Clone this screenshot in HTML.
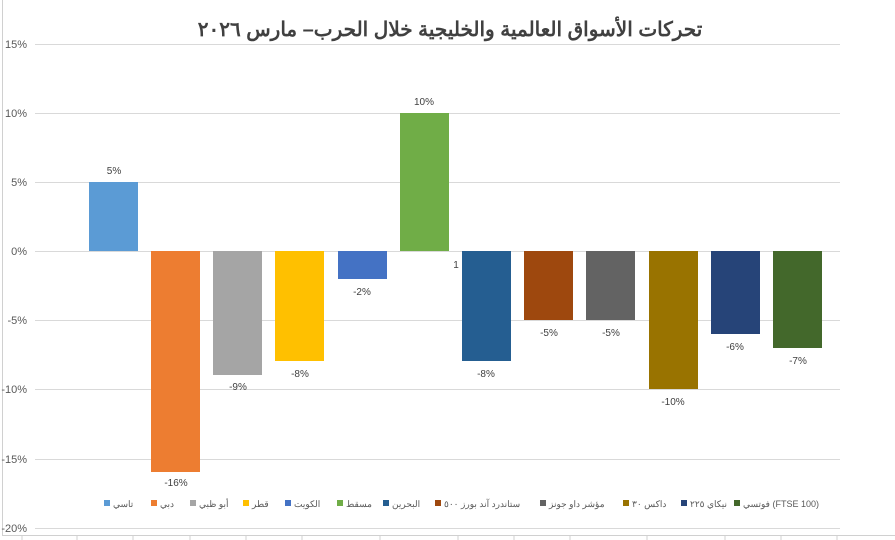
<!DOCTYPE html>
<html><head><meta charset="utf-8"><style>
body{margin:0;background:#fff;}
svg{display:block;font-family:"Liberation Sans","Noto Sans CJK SC",sans-serif;}
</style></head><body>
<svg width="895" height="540" viewBox="0 0 895 540" xmlns="http://www.w3.org/2000/svg">
<rect x="0" y="0" width="895" height="540" fill="#fff"/>
<line x1="2.5" y1="0" x2="2.5" y2="535" stroke="#d0d0d0"/>
<line x1="2" y1="535.5" x2="895" y2="535.5" stroke="#d0d0d0"/>
<g stroke="#d0d0d0">
<line x1="22" y1="536" x2="22" y2="540"/><line x1="77" y1="536" x2="77" y2="540"/><line x1="133" y1="536" x2="133" y2="540"/><line x1="190" y1="536" x2="190" y2="540"/><line x1="246" y1="536" x2="246" y2="540"/><line x1="302" y1="536" x2="302" y2="540"/><line x1="380" y1="536" x2="380" y2="540"/><line x1="458" y1="536" x2="458" y2="540"/><line x1="514" y1="536" x2="514" y2="540"/><line x1="570" y1="536" x2="570" y2="540"/><line x1="647" y1="536" x2="647" y2="540"/><line x1="725" y1="536" x2="725" y2="540"/><line x1="781" y1="536" x2="781" y2="540"/><line x1="837" y1="536" x2="837" y2="540"/>
</g>
<text x="450" y="36" text-anchor="middle" font-size="20" font-weight="bold" fill="#404040">تحركات الأسواق العالمية والخليجية خلال الحرب– مارس ٢٠٢٦</text>
<g stroke="#d9d9d9" stroke-width="1">
<line x1="35" y1="44.5" x2="840" y2="44.5"/><line x1="35" y1="113.5" x2="840" y2="113.5"/><line x1="35" y1="182.5" x2="840" y2="182.5"/><line x1="35" y1="251.5" x2="840" y2="251.5"/><line x1="35" y1="320.5" x2="840" y2="320.5"/><line x1="35" y1="389.5" x2="840" y2="389.5"/><line x1="35" y1="459.5" x2="840" y2="459.5"/><line x1="35" y1="528.5" x2="840" y2="528.5"/>
</g>
<g font-size="11" fill="#595959" text-anchor="end">
<text x="27" y="48">15%</text><text x="27" y="117">10%</text><text x="27" y="186">5%</text><text x="27" y="255">0%</text><text x="27" y="324">-5%</text><text x="27" y="393">-10%</text><text x="27" y="463">-15%</text><text x="27" y="532">-20%</text>
</g>
<g>
<rect x="89" y="182" width="49" height="69" fill="#5B9BD5"/>
<rect x="151" y="251" width="49" height="221" fill="#ED7D31"/>
<rect x="213" y="251" width="49" height="124" fill="#A5A5A5"/>
<rect x="275" y="251" width="49" height="110" fill="#FFC000"/>
<rect x="338" y="251" width="49" height="28" fill="#4472C4"/>
<rect x="400" y="113" width="49" height="138" fill="#70AD47"/>
<rect x="462" y="251" width="49" height="110" fill="#255E91"/>
<rect x="524" y="251" width="49" height="69" fill="#9E480E"/>
<rect x="586" y="251" width="49" height="69" fill="#636363"/>
<rect x="649" y="251" width="49" height="138" fill="#997300"/>
<rect x="711" y="251" width="49" height="83" fill="#264478"/>
<rect x="773" y="251" width="49" height="97" fill="#43682B"/>
</g>
<g font-size="10" fill="#404040" text-anchor="middle">
<text x="114" y="174">5%</text><text x="176" y="486">-16%</text><text x="238" y="390">-9%</text><text x="300" y="377">-8%</text><text x="362" y="295">-2%</text><text x="424" y="105">10%</text><text x="456" y="268">1</text><text x="486" y="377">-8%</text><text x="549" y="336">-5%</text><text x="611" y="336">-5%</text><text x="673" y="405">-10%</text><text x="735" y="350">-6%</text><text x="798" y="364">-7%</text>
</g>
<g font-size="9" fill="#595959">
<rect x="104" y="500" width="6" height="6" fill="#5B9BD5"/><text x="113" y="507">تاسي</text>
<rect x="151" y="500" width="6" height="6" fill="#ED7D31"/><text x="160" y="507">دبي</text>
<rect x="190" y="500" width="6" height="6" fill="#A5A5A5"/><text x="199" y="507">أبو ظبي</text>
<rect x="243" y="500" width="6" height="6" fill="#FFC000"/><text x="252" y="507">قطر</text>
<rect x="285" y="500" width="6" height="6" fill="#4472C4"/><text x="294" y="507">الكويت</text>
<rect x="337" y="500" width="6" height="6" fill="#70AD47"/><text x="346" y="507">مسقط</text>
<rect x="383" y="500" width="6" height="6" fill="#255E91"/><text x="392" y="507">البحرين</text>
<rect x="435" y="500" width="6" height="6" fill="#9E480E"/><text x="444" y="507">ستاندرد آند بورز ٥٠٠</text>
<rect x="540" y="500" width="6" height="6" fill="#636363"/><text x="549" y="507">مؤشر داو جونز</text>
<rect x="623" y="500" width="6" height="6" fill="#997300"/><text x="632" y="507">داكس ٣٠</text>
<rect x="681" y="500" width="6" height="6" fill="#264478"/><text x="690" y="507">نيكاي ٢٢٥</text>
<rect x="734" y="500" width="6" height="6" fill="#43682B"/><text x="743" y="507">فوتسي (FTSE 100)</text>
</g>
</svg>
</body></html>
